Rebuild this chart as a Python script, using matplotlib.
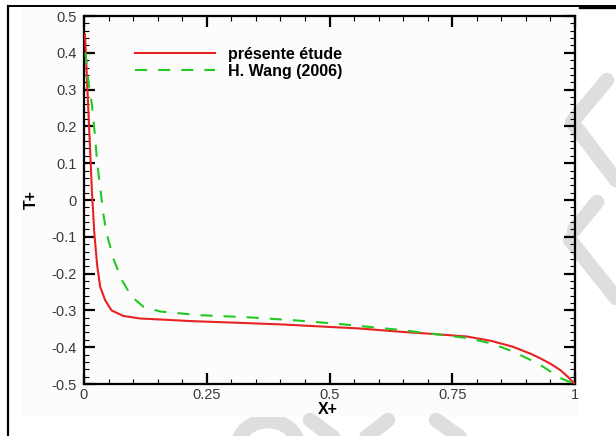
import matplotlib
matplotlib.use("Agg")
import matplotlib.pyplot as plt
from matplotlib.ticker import MultipleLocator, FixedLocator
from matplotlib.patches import Rectangle, Arc

# ---- data ----
x_red = [0.002, 0.005, 0.008, 0.011, 0.016, 0.021, 0.027, 0.033, 0.043, 0.056,
         0.08, 0.114, 0.16, 0.216, 0.30, 0.40, 0.487, 0.56, 0.644, 0.70, 0.78,
         0.83, 0.874, 0.91, 0.929, 0.95, 0.97, 0.985, 1.0]
t_red = [0.45, 0.36, 0.27, 0.18, 0.027, -0.09, -0.18, -0.236, -0.272, -0.30,
         -0.315, -0.322, -0.325, -0.329, -0.333, -0.338, -0.344, -0.349, -0.358,
         -0.363, -0.371, -0.383, -0.399, -0.418, -0.43, -0.445, -0.462, -0.48, -0.5]

x_green = [0.003, 0.008, 0.016, 0.022, 0.027, 0.033, 0.039, 0.046, 0.06, 0.077,
           0.097, 0.121, 0.155, 0.236, 0.338, 0.44, 0.52, 0.644, 0.70, 0.78,
           0.83, 0.874, 0.91, 0.935, 0.97, 1.0]
t_green = [0.40, 0.33, 0.26, 0.18, 0.10, 0.035, -0.035, -0.09, -0.16, -0.217,
           -0.263, -0.29, -0.303, -0.313, -0.319, -0.328, -0.337, -0.353, -0.362,
           -0.375, -0.39, -0.412, -0.435, -0.453, -0.484, -0.5]

label_red = "présente étude"
label_green = "H. Wang (2006)"
x_label = "X+"
y_label = "T+"
x_ticks = [0, 0.25, 0.5, 0.75, 1]
x_ticklabels = ["0", "0.25", "0.5", "0.75", "1"]
y_ticks = [0.5, 0.4, 0.3, 0.2, 0.1, 0, -0.1, -0.2, -0.3, -0.4, -0.5]
y_ticklabels = ["0.5", "0.4", "0.3", "0.2", "0.1", "0", "-0.1", "-0.2", "-0.3", "-0.4", "-0.5"]

W, H = 616, 436
fig = plt.figure(figsize=(W / 100, H / 100), dpi=100)
fig.patch.set_facecolor("white")

# ---- background layer in pixel coordinates (page frame + watermark) ----
bg = fig.add_axes([0, 0, 1, 1], zorder=0)
bg.set_xlim(0, W)
bg.set_ylim(H, 0)
bg.axis("off")
wm = "#dedede"
wlw = 10.5
strokes = [
    [(607, 80), (572, 122), (616, 180)],
    [(597, 202), (574, 230)],
    [(570, 240), (616, 298)],
    [(310, 420), (345, 446)],
    [(388, 420), (355, 446)],
    [(436, 420), (478, 450)],
]
for s in strokes:
    xs, ys = zip(*s)
    bg.plot(xs, ys, color=wm, lw=wlw, solid_capstyle="round", solid_joinstyle="round")
bg.add_patch(Arc((268, 446), 60, 50, theta1=180, theta2=360, color=wm, lw=wlw))
bg.add_patch(Rectangle((22, 8), 556, 409, facecolor="#fcfcfc", edgecolor="none"))
bg.plot([8, 616], [6.5, 6.5], color="black", lw=1.4)
bg.plot([580, 616], [7, 7], color="black", lw=2.4)
bg.plot([8, 8], [6, H], color="black", lw=1.6)

# ---- main axes ----
ax = fig.add_axes([84 / W, 1 - 384 / H, 491 / W, 368 / H], zorder=2)
ax.set_facecolor("none")
ax.plot(x_red, t_red, color="#e62222", lw=1.5, label=label_red, zorder=3)
(lg,) = ax.plot(x_green, t_green, color="#22c922", lw=1.5, label=label_green, zorder=4)
lg.set_dashes([5.8, 5.3])

ax.set_xlim(0, 1)
ax.set_ylim(-0.5, 0.5)
ax.xaxis.set_major_locator(FixedLocator(x_ticks))
ax.set_xticklabels(x_ticklabels)
ax.yaxis.set_major_locator(FixedLocator(y_ticks))
ax.set_yticklabels(y_ticklabels)
ax.xaxis.set_minor_locator(MultipleLocator(0.05))
ax.yaxis.set_minor_locator(MultipleLocator(0.02))
ax.tick_params(which="both", direction="in", top=True, right=True, colors="black",
               labelcolor="#3a3a3a")
ax.tick_params(which="major", length=8, width=1.6, labelsize=10.5)
ax.tick_params(which="minor", length=3.5, width=0.8)
ax.tick_params(axis="x", which="major", pad=3)
ax.tick_params(axis="y", which="major", pad=5)
for lab in ax.get_xticklabels() + ax.get_yticklabels():
    lab.set_fontfamily("Liberation Sans")
for sp in ax.spines.values():
    sp.set_linewidth(1.6)

# axis titles placed at their pixel positions in the reference
fig.text(328 / W, 1 - 409 / H, x_label, ha="center", va="center",
         fontfamily="Liberation Sans", fontweight="bold", fontsize=11.5)
fig.text(31 / W, 1 - 200 / H, y_label, ha="center", va="center", rotation=90,
         fontfamily="Liberation Sans", fontweight="bold", fontsize=11.5)

leg = ax.legend(loc="upper left", bbox_to_anchor=(135 / W, 1 - 47 / H),
                bbox_transform=fig.transFigure, frameon=False, borderpad=0,
                borderaxespad=0, handlelength=5.0, handletextpad=0.8,
                labelspacing=0.13,
                prop={"family": "Liberation Sans", "weight": "bold", "size": 11.5})

fig.savefig("out.png", dpi=100)
